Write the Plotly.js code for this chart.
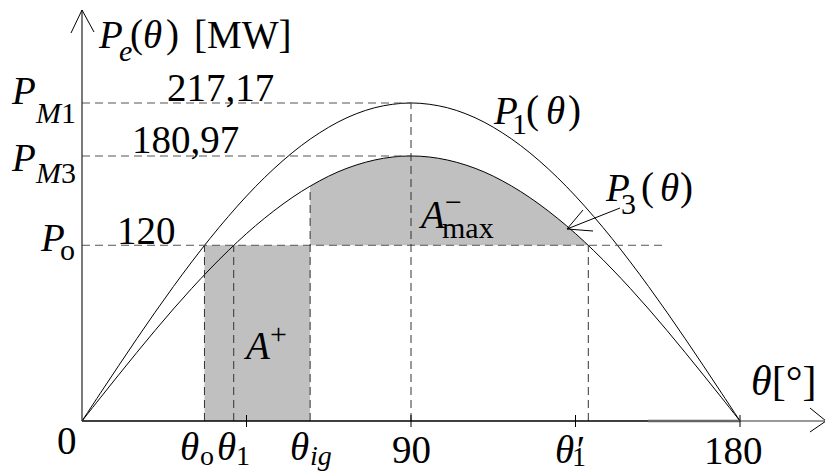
<!DOCTYPE html>
<html><head><meta charset="utf-8">
<script src="https://cdn.plot.ly/plotly-3.0.1.min.js"></script>
<style>html,body{margin:0;padding:0;background:#fff}#chart{width:825px;height:473px}</style>
</head><body><div id="chart"></div>
<script>
// ---- data ----
const thetaDeg = [0,5,10,15,20,25,30,35,40,45,50,55,60,65,70,75,80,85,90,95,100,105,110,115,120,125,130,135,140,145,150,155,160,165,170,175,180];
const p1 = [0,18.9,37.7,56.2,74.3,91.8,108.6,124.6,139.6,153.6,166.4,177.9,188.1,196.8,204.1,209.8,213.9,216.3,217.2,216.3,213.9,209.8,204.1,196.8,188.1,177.9,166.4,153.6,139.6,124.6,108.6,91.8,74.3,56.2,37.7,18.9,0];
const p3 = [0,15.8,31.4,46.8,61.9,76.5,90.5,103.8,116.3,128.0,138.6,148.2,156.7,164.0,170.1,174.8,178.2,180.3,181.0,180.3,178.2,174.8,170.1,164.0,156.7,148.2,138.6,128.0,116.3,103.8,90.5,76.5,61.9,46.8,31.4,15.8,0];
const PM1 = 217.17, PM3 = 180.97, P0 = 120;
const theta0 = 33.5, theta1 = 41.5, thetaIg = 62.4, theta1p = 138.5;
const p3AtIg = 160.3;
const tickAngles = [45, 90, 135, 180];
const levelLabels = ['217,17', '180,97', '120'];
const xTickLabels = ['0', '90', '180'];

// ---- pixel helpers for layout placement ----
const X = px => (px - 82) / 3.6556;
const Y = py => (421 - py) / 1.4643;
const FONT = 'Liberation Serif';

// A_max polygon
const ax = [thetaIg, thetaIg], ay = [P0, p3AtIg];
thetaDeg.forEach((t, i) => { if (t > thetaIg && t < theta1p) { ax.push(t); ay.push(p3[i]); } });
ax.push(theta1p); ay.push(P0);

const traces = [
  {x:[theta0, thetaIg, thetaIg, theta0], y:[0,0,P0,P0], fill:'toself', fillcolor:'#c0c0c0', line:{width:0}, mode:'lines', hoverinfo:'skip'},
  {x:ax, y:ay, fill:'toself', fillcolor:'#c0c0c0', line:{width:0}, mode:'lines', hoverinfo:'skip'},
  {x:thetaDeg, y:p1, mode:'lines', line:{color:'#000', width:1, shape:'spline'}},
  {x:thetaDeg, y:p3, mode:'lines', line:{color:'#000', width:1, shape:'spline'}}
];

const dashS = '8px,5px';
const shapes = [];
function dline(x0,y0,x1,y1,color){shapes.push({type:'line',xref:'x',yref:'y',x0,y0,x1,y1,line:{color:color||'#333',width:1,dash:dashS}});}
dline(0,PM1,90,PM1,'#555');
dline(0,PM3,90,PM3,'#555');
dline(0,P0,X(667),P0,'#555');
dline(90,0,90,PM1);
dline(theta0,0,theta0,P0);
dline(theta1,0,theta1,P0);
dline(thetaIg,0,thetaIg,p3AtIg);
dline(theta1p,0,theta1p,P0);
// axes
shapes.push({type:'line',xref:'x',yref:'y',x0:0,y0:0,x1:180,y1:0,line:{color:'#000',width:1.3}});
shapes.push({type:'line',xref:'x',yref:'y',x0:180,y0:0,x1:X(826),y1:0,line:{color:'#777',width:1.3}});
shapes.push({type:'line',xref:'x',yref:'y',x0:X(648),y0:0,x1:180,y1:0,line:{color:'#666',width:2.5}});
shapes.push({type:'line',xref:'x',yref:'y',x0:0,y0:0,x1:0,y1:Y(10),line:{color:'#333',width:1.3}});
// arrowheads
shapes.push({type:'path',xref:'x',yref:'y',xsizemode:'pixel',ysizemode:'pixel',xanchor:0,yanchor:Y(10),path:'M -11 -23 L 0 0 L 12 -22',line:{color:'#000',width:1}});
shapes.push({type:'path',xref:'x',yref:'y',xsizemode:'pixel',ysizemode:'pixel',xanchor:X(826),yanchor:0,path:'M -16 13 L 0 0 L -16 -11',line:{color:'#000',width:1}});
// P3 pointer arrow
shapes.push({type:'path',xref:'x',yref:'y',xsizemode:'pixel',ysizemode:'pixel',xanchor:X(567),yanchor:Y(229),path:'M 53 21 L 0 0 M 16 19 L 0 0 L 26 -2',line:{color:'#000',width:1}});
// ticks
tickAngles.forEach(t => shapes.push({type:'line',xref:'x',yref:'y',ysizemode:'pixel',yanchor:0,x0:t,x1:t,y0:-6,y1:6,line:{color:'#000',width:1}}));

const ann = [];
// text placed by its left ink edge (or centre) and its baseline, in pixels
function T(text, px, base, size, xanchor){
  ann.push({text, x:X(xanchor==='center'?px:px-2), y:Y(base - 0.33*size), xref:'x', yref:'y',
    xanchor:xanchor||'left', yanchor:'middle', showarrow:false, borderpad:0, borderwidth:0,
    font:{family:FONT,size:size,color:'#000'}});
}
const M = 39, S = 30, SB = 28;
// y title
T('<i>P</i>', 100, 47, M); T('<i>e</i>', 121, 60, S);
T('(', 132, 47, M); T('<i>θ</i>', 145, 47, M); T(')', 168, 47, M); T('[MW]', 196, 47, M);
// level labels
T('<i>P</i>', 13, 103, M); T('<i>M</i>1', 37, 122, S);
T('<i>P</i>', 13, 170, M); T('<i>M</i>3', 37, 182, S);
T('<i>P</i>', 42, 250, M); T('o', 62, 259, S);
T(levelLabels[0], 220, 100, M, 'center');
T(levelLabels[1], 185, 152, M, 'center');
T(levelLabels[2], 146, 243, M, 'center');
// curve labels
T('<i>P</i>', 495, 123, M); T('1', 514, 133, S);
T('(', 528, 123, M); T('<i>θ</i>', 548, 123, M); T(')', 570, 123, M);
T('<i>P</i>', 607, 200, M); T('3', 623, 213, S);
T('(', 643, 200, M); T('<i>θ</i>', 662, 200, M); T(')', 682, 200, M);
// areas
T('<i>A</i>', 420, 227, M); T('−', 447, 211, S); T('max', 444, 237, S);
T('<i>A</i>', 245, 358, M); T('+', 272, 343, S);
// x axis title
T('<i>θ</i>[°]', 753, 395, 42);
// x tick labels
T(xTickLabels[0], 67, 453, M, 'center');
T(xTickLabels[1], 411, 462, M, 'center');
T(xTickLabels[2], 733, 463, M, 'center');
T('<i>θ</i>', 182, 459, M); T('o', 202, 465, SB);
T('<i>θ</i>', 219, 459, M); T('1', 238, 465, SB);
T('<i>θ</i>', 292, 459, M); T('<i>ig</i>', 312, 465, SB);
T('<i>θ′</i>', 557, 462, M); T('1', 574, 466, SB);

const layout = {
  width:825, height:473, margin:{l:0,r:0,t:0,b:0,pad:0,autoexpand:false},
  paper_bgcolor:'#fff', plot_bgcolor:'#fff', showlegend:false,
  xaxis:{range:[X(0),X(825)], visible:false, fixedrange:true},
  yaxis:{range:[Y(473),Y(0)], visible:false, fixedrange:true},
  shapes, annotations:ann
};
Plotly.newPlot('chart', traces, layout, {staticPlot:true, displayModeBar:false});
</script></body></html>
